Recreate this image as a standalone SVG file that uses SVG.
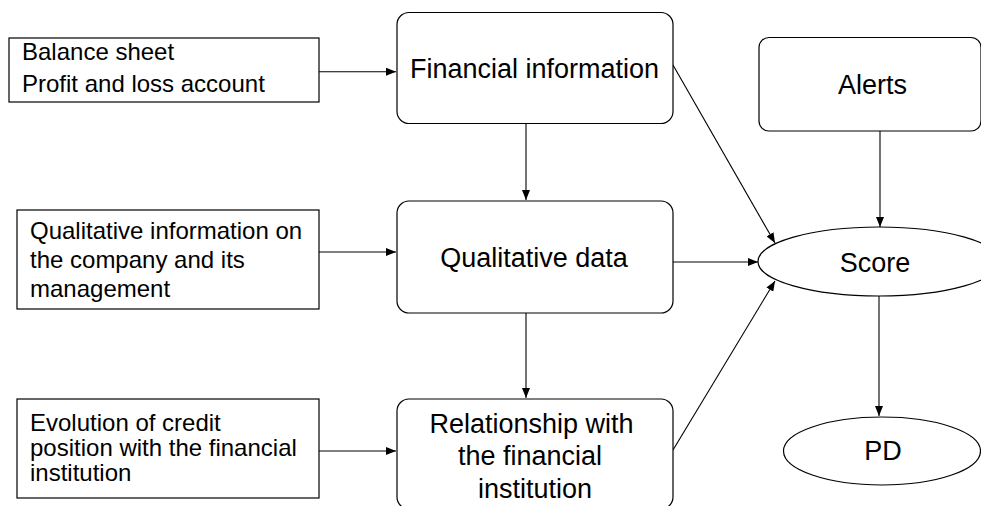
<svg xmlns="http://www.w3.org/2000/svg" width="981" height="506" viewBox="0 0 981 506">
<defs>
<marker id="arr" markerUnits="userSpaceOnUse" markerWidth="10" markerHeight="8" refX="10" refY="4" orient="auto">
<path d="M0,0 L10,4 L0,8 z" fill="#000"/>
</marker>
<style>
.src{fill:#fff;stroke:#000;stroke-width:1.2}
.nd{fill:#fff;stroke:#000;stroke-width:1.2}
.t{font-family:"Liberation Sans",Arial,sans-serif;font-size:24px;fill:#000}
.b{font-family:"Liberation Sans",Arial,sans-serif;font-size:27px;fill:#000;text-anchor:middle}
.c{stroke:#000;stroke-width:1.1;fill:none;marker-end:url(#arr)}
</style>
</defs>
<rect width="981" height="506" fill="#fff"/>
<g id="connectors">
<line class="c" x1="319" y1="71.7" x2="396" y2="71.7"/>
<line class="c" x1="319" y1="252" x2="396" y2="252"/>
<line class="c" x1="319" y1="451" x2="396" y2="451"/>
<line class="c" x1="526" y1="123" x2="526" y2="200"/>
<line class="c" x1="526" y1="313" x2="526" y2="398"/>
<line class="c" x1="673" y1="65" x2="775" y2="243"/>
<line class="c" x1="673" y1="262" x2="758" y2="262"/>
<line class="c" x1="673" y1="450" x2="775" y2="281"/>
<line class="c" x1="880" y1="131" x2="880" y2="227"/>
<line class="c" x1="879" y1="296" x2="879" y2="416"/>
</g>
<g id="balance">
<rect class="src" x="9" y="38" width="310" height="64"/>
<text class="t" x="22" y="60">Balance sheet</text>
<text class="t" x="22" y="92">Profit and loss account</text>
</g>
<g id="qualinfo">
<rect class="src" x="17" y="210" width="302" height="99"/>
<text class="t" x="30" y="239">Qualitative information on</text>
<text class="t" x="30" y="268">the company and its</text>
<text class="t" x="30" y="297">management</text>
</g>
<g id="evolution">
<rect class="src" x="17" y="399" width="302" height="99"/>
<text class="t" x="30" y="431">Evolution of credit</text>
<text class="t" x="30" y="456">position with the financial</text>
<text class="t" x="30" y="481">institution</text>
</g>
<g id="financial">
<rect class="nd" x="397" y="12.5" width="276" height="111" rx="12"/>
<text class="b" x="534.5" y="78">Financial information</text>
</g>
<g id="qualdata">
<rect class="nd" x="397" y="201" width="276" height="112" rx="12"/>
<text class="b" x="534" y="267">Qualitative data</text>
</g>
<g id="relationship">
<rect class="nd" x="397" y="399" width="276" height="110" rx="12"/>
<text class="b" x="531.5" y="433">Relationship with</text>
<text class="b" x="530" y="465">the financial</text>
<text class="b" x="535" y="498">institution</text>
</g>
<g id="alerts">
<rect class="nd" x="759" y="37.5" width="222" height="93.5" rx="10"/>
<text class="b" x="872.5" y="94">Alerts</text>
</g>
<g id="score">
<ellipse class="nd" cx="879" cy="261.5" rx="121" ry="34.5"/>
<text class="b" x="875" y="272">Score</text>
</g>
<g id="pd">
<ellipse class="nd" cx="882" cy="451" rx="98.5" ry="34"/>
<text class="b" x="883" y="460">PD</text>
</g>
</svg>
